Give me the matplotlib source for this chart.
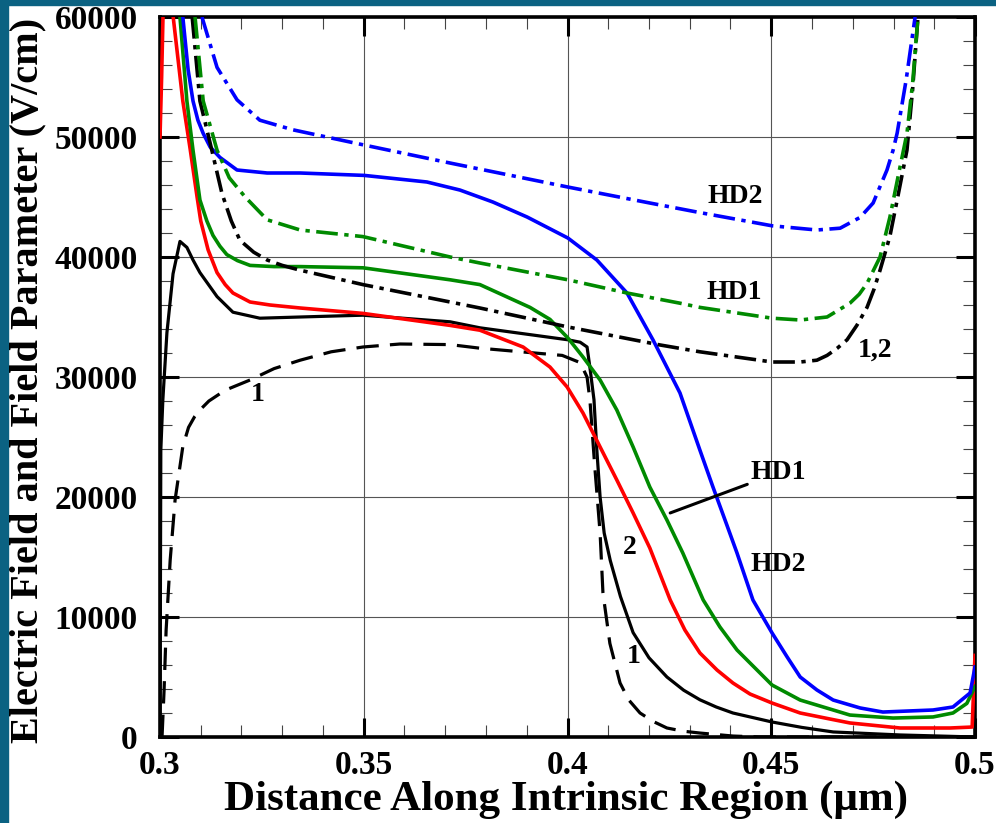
import numpy as np
import matplotlib.pyplot as plt
from matplotlib.patches import Rectangle
from matplotlib.ticker import MultipleLocator, FixedLocator, FixedFormatter

nan = np.nan

# ---- data (x in um, field in V/cm) ----
# curve 1, solid black
x_1 = [0.3000, 0.3002, 0.3007, 0.3017, 0.3032, 0.3049, 0.3066, 0.3081, 0.3098, 0.3140,
       0.3179, 0.3245, 0.3344, 0.3498, 0.3712, 0.3785, 0.4001, 0.4031, 0.4048, 0.4055,
       0.4065, 0.4072, 0.4080, 0.4090, 0.4105, 0.4130, 0.4161, 0.4200, 0.4244, 0.4285,
       0.4325, 0.4365, 0.4406, 0.4502, 0.4575, 0.4652, 0.4816, 0.5000]
y_1 = [0, 23900, 28100, 33700, 38600, 41300, 40800, 39750, 38700, 36700,
       35400, 34900, 35000, 35150, 34600, 34100, 33100, 32900, 32500, 30800,
       28100, 23900, 20000, 17000, 14700, 11700, 8700, 6600, 5000, 3900,
       3100, 2500, 2000, 1250, 800, 420, 170, 0]

# curve 1, dashed black
x_1d = [0.3005, 0.3010, 0.3015, 0.3025, 0.3037, 0.3056, 0.3070, 0.3085, 0.3098, 0.3120,
        0.3160, 0.3221, 0.3280, 0.3344, 0.3420, 0.3498, 0.3589, 0.3712, 0.3785, 0.3987,
        0.4031, 0.4048, 0.4055, 0.4067, 0.4080, 0.4087, 0.4104, 0.4129, 0.4150, 0.4178,
        0.4210, 0.4244, 0.4285, 0.4325, 0.4406, 0.4472, 0.5000]
y_1d = [0, 3900, 8900, 14750, 19750, 24200, 25800, 26700, 27250, 28000,
        28900, 29750, 30700, 31400, 32100, 32500, 32750, 32700, 32400, 31800,
        31200, 30000, 28100, 22500, 17000, 12000, 7800, 4500, 3100, 2000,
        1300, 750, 480, 330, 80, 0, 0]

# curve 2, red
x_2 = [0.3000, 0.3004, 0.3008, nan, 0.3029, 0.3056, 0.3074, 0.3091, 0.3100, 0.3118,
       0.3140, 0.3160, 0.3179, 0.3221, 0.3270, 0.3344, 0.3498, 0.3712, 0.3785, 0.3891,
       0.3957, 0.3999, 0.4038, 0.4080, 0.4121, 0.4161, 0.4202, 0.4252, 0.4288, 0.4325,
       0.4367, 0.4406, 0.4448, 0.4502, 0.4571, 0.4644, 0.4693, 0.4816, 0.4939, 0.4993,
       0.5000]
y_2 = [50000, 55000, 61000, nan, 61000, 53000, 49000, 45000, 43000, 40600,
       38700, 37700, 37000, 36250, 36000, 35750, 35300, 34300, 33900, 32500,
       30830, 29170, 27000, 24170, 21420, 18670, 15750, 11420, 8920, 7000,
       5580, 4500, 3580, 2830, 2000, 1500, 1170, 750, 750, 830,
       6800]

# HD1, green solid
x_hd1 = [0.3049, 0.3066, 0.3081, 0.3098, 0.3115, 0.3130, 0.3147, 0.3164, 0.3190, 0.3221,
         0.3280, 0.3344, 0.3498, 0.3712, 0.3785, 0.3908, 0.3957, 0.4001, 0.4038, 0.4080,
         0.4121, 0.4161, 0.4202, 0.4244, 0.4283, 0.4333, 0.4374, 0.4416, 0.4502, 0.4571,
         0.4693, 0.4799, 0.4897, 0.4946, 0.4980, 0.5000]
y_hd1 = [60000, 53000, 48900, 44750, 43000, 41800, 40900, 40200, 39700, 39300,
         39200, 39200, 39100, 38100, 37700, 35800, 34800, 33250, 31670, 29750,
         27250, 24170, 20830, 18080, 15330, 11420, 9170, 7250, 4330, 3080,
         1830, 1580, 1670, 2000, 2800, 4200]

# HD2, blue solid
x_hd2 = [0.3056, 0.3069, 0.3081, 0.3093, 0.3106, 0.3123, 0.3147, 0.3189, 0.3263, 0.3344,
         0.3501, 0.3655, 0.3736, 0.3817, 0.3901, 0.4001, 0.4072, 0.4146, 0.4210, 0.4276,
         0.4325, 0.4357, 0.4391, 0.4416, 0.4455, 0.4502, 0.4539, 0.4571, 0.4612, 0.4652,
         0.4718, 0.4774, 0.4897, 0.4946, 0.4988, 0.5000]
y_hd2 = [60000, 55600, 53000, 51400, 50300, 49170, 48300, 47250, 47000, 47000,
         46800, 46250, 45580, 44580, 43330, 41580, 39750, 37000, 33080, 28670,
         23900, 20830, 17670, 15330, 11420, 8670, 6670, 5000, 3920, 3080,
         2420, 2080, 2250, 2500, 3670, 5830]

# field parameter 1,2, black dash-dot
x_p12 = [0.3079, 0.3098, 0.3123, 0.3152, 0.3175, 0.3196, 0.3230, 0.3263, 0.3300, 0.3344,
         0.3498, 0.3712, 0.3785, 0.4001, 0.4227, 0.4325, 0.4502, 0.4571, 0.4612, 0.4637,
         0.4662, 0.4686, 0.4710, 0.4735, 0.4752, 0.4767, 0.4791, 0.4809, 0.4833, 0.4847,
         0.4860]
y_p12 = [60000, 53000, 49500, 45300, 43000, 41400, 40400, 39750, 39300, 38900,
         37700, 36250, 35750, 34170, 32670, 32100, 31250, 31250, 31400, 31800,
         32400, 33100, 34300, 35800, 37300, 38900, 41700, 44750, 48900, 54000,
         60000]

# field parameter HD1, green dash-dot
x_phd1 = [0.3086, 0.3106, 0.3140, 0.3170, 0.3209, 0.3263, 0.3344, 0.3498, 0.3712, 0.3785,
          0.4001, 0.4146, 0.4276, 0.4325, 0.4502, 0.4571, 0.4637, 0.4693, 0.4716, 0.4735,
          0.4767, 0.4791, 0.4816, 0.4833, 0.4847, 0.4860]
y_phd1 = [60000, 53000, 48900, 46600, 45000, 43100, 42250, 41700, 40000, 39500,
          38100, 37000, 36150, 35800, 34900, 34750, 35000, 36150, 36900, 37800,
          40000, 43300, 47500, 50300, 54500, 60000]

# field parameter HD2, blue dash-dot
x_phd2 = [0.3103, 0.3140, 0.3189, 0.3245, 0.3326, 0.3501, 0.3712, 0.4001, 0.4202, 0.4325,
          0.4502, 0.4612, 0.4669, 0.4718, 0.4750, 0.4784, 0.4799, 0.4809, 0.4831, 0.4853]
y_phd2 = [60000, 55800, 53100, 51400, 50600, 49330, 47830, 45830, 44500, 43700,
          42600, 42250, 42400, 43300, 44500, 47250, 48900, 50330, 54750, 60000]

x_ticks = [0.3, 0.35, 0.4, 0.45, 0.5]
x_tick_labels = ['0.3', '0.35', '0.4', '0.45', '0.5']
y_ticks = [0, 10000, 20000, 30000, 40000, 50000, 60000]

plt.rcParams['font.family'] = ['Liberation Serif', 'DejaVu Serif']
plt.rcParams['font.weight'] = 'bold'

fig = plt.figure(figsize=(9.96, 8.23), dpi=100)
fig.patches.append(Rectangle((0, 0), 8 / 996, 1, transform=fig.transFigure,
                             color='#0b6282', zorder=0))
fig.patches.append(Rectangle((0, 1 - 5 / 823), 1, 5 / 823, transform=fig.transFigure,
                             color='#0b6282', zorder=0))

ax = fig.add_axes([160 / 996, 1 - 737 / 823, 815 / 996, 720 / 823])

lw_c = 2.6
lw_k = 2.3
dash_dot = (6, 1.8, 1.2, 1.8)

ax.plot(x_1, y_1, color='black', lw=lw_k, zorder=4)
ax.plot(x_1d, y_1d, color='black', lw=lw_k, dashes=(7, 3.5), zorder=4)
ax.plot(x_2, y_2, color='#ff0000', lw=lw_c, zorder=4)
ax.plot(x_hd1, y_hd1, color='#008a00', lw=lw_c, zorder=4)
ax.plot(x_hd2, y_hd2, color='#0000ff', lw=lw_c, zorder=4)
ax.plot(x_p12, y_p12, color='black', lw=lw_c, dashes=dash_dot, zorder=4)
ax.plot(x_phd1, y_phd1, color='#008a00', lw=lw_c, dashes=dash_dot, zorder=4)
ax.plot(x_phd2, y_phd2, color='#0000ff', lw=lw_c, dashes=dash_dot, zorder=4)

ax.set_xlim(0.3, 0.5)
ax.set_ylim(0, 60000)
ax.xaxis.set_major_locator(FixedLocator(x_ticks))
ax.xaxis.set_major_formatter(FixedFormatter(x_tick_labels))
ax.xaxis.set_minor_locator(MultipleLocator(0.01))
ax.yaxis.set_major_locator(FixedLocator(y_ticks))
ax.yaxis.set_minor_locator(MultipleLocator(2000))

ax.grid(which='major', color='#555555', lw=0.8, zorder=1)
ax.tick_params(which='major', direction='in', length=14, width=2.2,
               top=True, right=True, labelsize=24)
ax.tick_params(which='minor', direction='in', length=8.5, width=0.8,
               top=True, right=True, color='#444444')
ax.tick_params(axis='x', which='major', pad=9)
ax.tick_params(axis='y', which='major', pad=16)
for s in ax.spines.values():
    s.set_linewidth(2.6)
    s.set_zorder(3)

# curve labels
lab = dict(fontsize=20, fontweight='bold', ha='center', va='center', zorder=5)
ax.text(0.4411, 45080, 'HD2', **lab)
ax.text(0.4409, 37080, 'HD1', **lab)
ax.text(0.4755, 32250, '1,2', **lab)
ax.text(0.3240, 28500, '1', **lab)
ax.text(0.4153, 15750, '2', **lab)
ax.text(0.4163, 6670, '1', **lab)
ax.text(0.4517, 14400, 'HD2', **lab)
ax.annotate('HD1', xy=(0.4252, 18670), xytext=(0.4448, 22000),
            fontsize=20, fontweight='bold', ha='left', va='center', zorder=5,
            arrowprops=dict(arrowstyle='-', lw=2.2, color='black',
                            shrinkA=0, shrinkB=0))

fig.text(566 / 996, 1 - 800 / 823, 'Distance Along Intrinsic Region (\u03bcm)',
         fontsize=31, fontweight='bold', ha='center', va='center')
fig.text(28 / 996, 1 - 380 / 823, 'Electric Field and Field Parameter (V/cm)',
         fontsize=29, fontweight='bold', ha='center', va='center', rotation=90)

fig.savefig('out.png', dpi=100)
